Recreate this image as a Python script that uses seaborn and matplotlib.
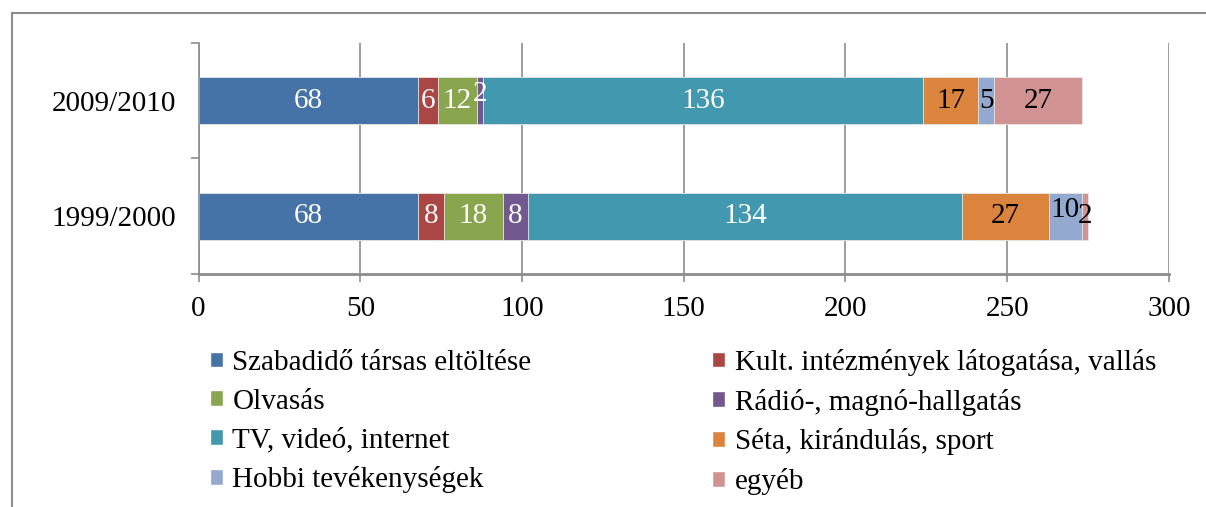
import numpy as np
import pandas as pd
import matplotlib
matplotlib.use("Agg")
import matplotlib.pyplot as plt
from matplotlib.patches import Patch, Rectangle
import seaborn as sns

years = ["2009/2010", "1999/2000"]
activities = [
    "Szabadidő társas eltöltése",
    "Kult. intézmények látogatása, vallás",
    "Olvasás",
    "Rádió-, magnó-hallgatás",
    "TV, videó, internet",
    "Séta, kirándulás, sport",
    "Hobbi tevékenységek",
    "egyéb",
]
values_2009 = [68, 6, 12, 2, 136, 17, 5, 27]
values_1999 = [68, 8, 18, 8, 134, 27, 10, 2]

colors = ["#4572A7", "#AA4643", "#89A54E", "#71588F",
          "#4198AF", "#DB843D", "#93A9CF", "#D19392"]
label_colors = ["white"] * 5 + ["black"] * 3

sns.set_style("white")
plt.rcParams["font.family"] = ["Liberation Serif", "DejaVu Serif"]
plt.rcParams["text.color"] = "black"
FONT = 21

df = pd.DataFrame({"2009/2010": values_2009, "1999/2000": values_1999}, index=activities)
cum = df.cumsum()

fig = plt.figure(figsize=(12.06, 5.07), dpi=100)
ax = fig.add_axes([0.1646, 0.4596, 0.8047, 0.4556])

# stacked bars: draw cumulative totals from the last segment back to the first
for name, color in reversed(list(zip(activities, colors))):
    sns.barplot(x=cum.loc[name, years].values, y=years, color=color, orient="h",
                width=0.41, ax=ax, saturation=1, edgecolor="#e8e8e8", linewidth=0.6)

# excel nudged a couple of crowded labels upwards
nudge = {("2009/2010", "Rádió-, magnó-hallgatás"): -0.06,
         ("1999/2000", "Hobbi tevékenységek"): -0.05}
for j, yr in enumerate(years):
    for name, lc in zip(activities, label_colors):
        v = df.loc[name, yr]
        ax.text(cum.loc[name, yr] - v / 2, j + nudge.get((yr, name), 0), str(v),
                ha="center", va="center", color=lc, fontsize=FONT, zorder=5)

ax.set_xlim(0, 300)
ax.set_ylim(1.5, -0.5)
ax.set_xticks(np.arange(0, 301, 50))
ax.grid(axis="x", color="#8c8c8c", linewidth=1.2)
ax.set_axisbelow(True)
ax.set_xlabel("")
ax.set_ylabel("")

for s in ["top", "right"]:
    ax.spines[s].set_visible(False)
ax.spines["left"].set_color("#8c8c8c")
ax.spines["left"].set_linewidth(1.2)
ax.spines["bottom"].set_color("#8c8c8c")
ax.spines["bottom"].set_linewidth(2)

ax.tick_params(axis="x", length=6, width=1.2, color="#8c8c8c", direction="out",
               labelsize=FONT, labelcolor="black", pad=10, bottom=True)
ax.tick_params(axis="y", length=0, labelsize=FONT, labelcolor="black", pad=16)
ax.set_yticks([-0.5, 0.5, 1.5], minor=True)
ax.tick_params(axis="y", which="minor", length=6, width=1.2, color="#8c8c8c", left=True)

handles = [Patch(facecolor=c, label=a) for a, c in zip(activities, colors)]
order = [0, 2, 4, 6, 1, 3, 5, 7]
fig.legend([handles[i] for i in order], [activities[i] for i in order],
           loc="upper left", bbox_to_anchor=(0.174, 0.312), ncol=2, frameon=False,
           fontsize=FONT, labelcolor="black", handlelength=0.45, handleheight=0.45,
           handletextpad=0.32, columnspacing=6.2, labelspacing=0.44,
           borderaxespad=0, borderpad=0)

fig.add_artist(Rectangle((12 / 1206, -0.1), 1.2, 1 - 13 / 507 + 0.1,
                         transform=fig.transFigure, fill=False,
                         edgecolor="#8c8c8c", linewidth=1.5))

fig.savefig("out.png", dpi=100)
